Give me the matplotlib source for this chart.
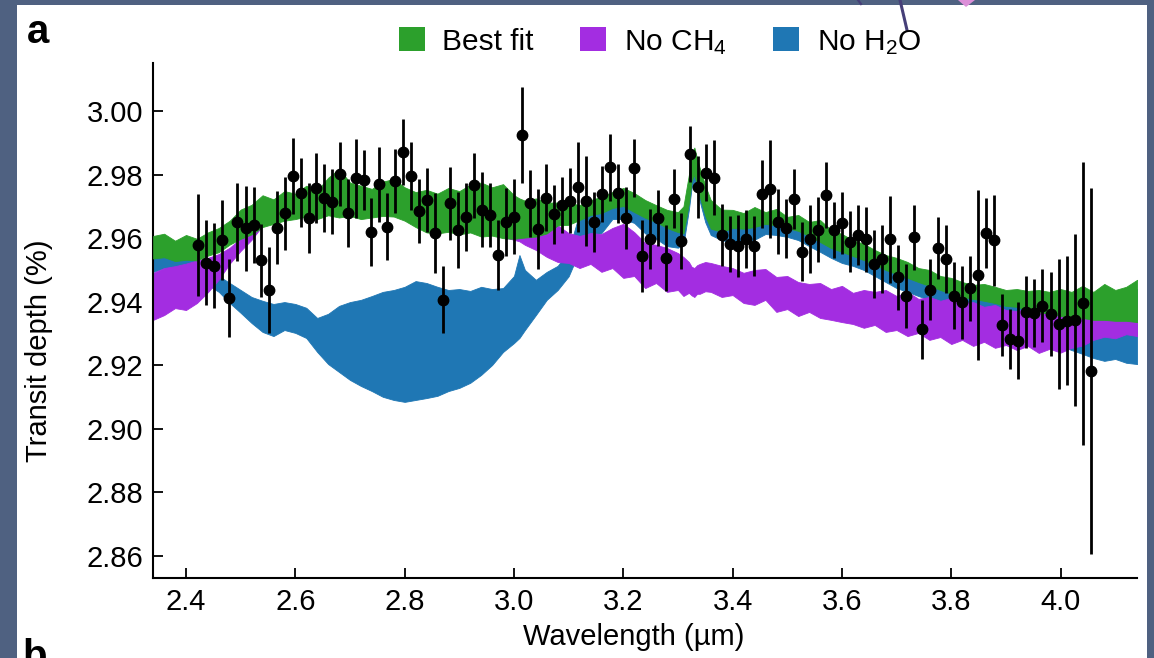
import matplotlib
matplotlib.use('Agg')
import matplotlib.pyplot as plt
from matplotlib.patches import Patch, Rectangle, Polygon
from matplotlib.lines import Line2D

plt.rcParams['font.family'] = ['Liberation Sans', 'DejaVu Sans']
plt.rcParams['mathtext.fontset'] = 'custom'
plt.rcParams['mathtext.rm'] = 'Liberation Sans'
plt.rcParams['mathtext.it'] = 'Liberation Sans:italic'
plt.rcParams['mathtext.bf'] = 'Liberation Sans:bold'

# ---------------- data ----------------
# observed spectrum
wavelength = [
    2.4225, 2.4366, 2.4512, 2.4659, 2.4792, 2.4939, 2.5092, 2.5239, 2.5378, 2.5513,
    2.5665, 2.5806, 2.5952, 2.6098, 2.6245, 2.6384, 2.6525, 2.6671, 2.6812, 2.6964,
    2.7110, 2.7251, 2.7390, 2.7536, 2.7683, 2.7824, 2.7970, 2.8116, 2.8257, 2.8404,
    2.8550, 2.8696, 2.8835, 2.8982, 2.9128, 2.9269, 2.9415, 2.9562, 2.9708, 2.9854,
    3.0001, 3.0147, 3.0293, 3.0440, 3.0586, 3.0732, 3.0873, 3.1025, 3.1172, 3.1318,
    3.1459, 3.1605, 3.1757, 3.1903, 3.2050, 3.2196, 3.2343, 3.2489, 3.2630, 3.2776,
    3.2922, 3.3061, 3.3221, 3.3361, 3.3508, 3.3654, 3.3800, 3.3947, 3.4093, 3.4245,
    3.4391, 3.4532, 3.4679, 3.4830, 3.4977, 3.5123, 3.5270, 3.5416, 3.5562, 3.5709,
    3.5855, 3.6001, 3.6142, 3.6300, 3.6441, 3.6587, 3.6739, 3.6885, 3.7031, 3.7178,
    3.7324, 3.7471, 3.7611, 3.7758, 3.7910, 3.8056, 3.8202, 3.8349, 3.8495, 3.8641,
    3.8788, 3.8934, 3.9081, 3.9227, 3.9373, 3.9520, 3.9666, 3.9820, 3.9966, 4.0112,
    4.0259, 4.0411, 4.0562]
depth = [
    2.9579, 2.9523, 2.9514, 2.9594, 2.9411, 2.9650, 2.9631, 2.9642, 2.9531, 2.9437,
    2.9633, 2.9678, 2.9796, 2.9743, 2.9664, 2.9757, 2.9725, 2.9715, 2.9802, 2.9680,
    2.9788, 2.9783, 2.9620, 2.9769, 2.9636, 2.9780, 2.9872, 2.9796, 2.9686, 2.9720,
    2.9617, 2.9406, 2.9710, 2.9626, 2.9668, 2.9767, 2.9689, 2.9673, 2.9547, 2.9652,
    2.9668, 2.9925, 2.9710, 2.9628, 2.9727, 2.9675, 2.9704, 2.9718, 2.9760, 2.9718,
    2.9652, 2.9739, 2.9823, 2.9741, 2.9664, 2.9820, 2.9544, 2.9597, 2.9664, 2.9537,
    2.9724, 2.9591, 2.9865, 2.9760, 2.9806, 2.9790, 2.9610, 2.9582, 2.9576, 2.9597,
    2.9576, 2.9738, 2.9755, 2.9652, 2.9631, 2.9722, 2.9558, 2.9597, 2.9626, 2.9736,
    2.9626, 2.9647, 2.9589, 2.9610, 2.9597, 2.9518, 2.9534, 2.9597, 2.9477, 2.9419,
    2.9603, 2.9314, 2.9437, 2.9568, 2.9535, 2.9419, 2.9398, 2.9442, 2.9484, 2.9615,
    2.9594, 2.9327, 2.9283, 2.9278, 2.9367, 2.9364, 2.9388, 2.9361, 2.9330, 2.9341,
    2.9343, 2.9395, 2.9182]
depth_err = [
    0.0160, 0.0133, 0.0134, 0.0127, 0.0122, 0.0123, 0.0133, 0.0120, 0.0115, 0.0135,
    0.0114, 0.0115, 0.0120, 0.0108, 0.0110, 0.0110, 0.0107, 0.0102, 0.0100, 0.0107,
    0.0124, 0.0094, 0.0106, 0.0118, 0.0105, 0.0100, 0.0104, 0.0107, 0.0100, 0.0100,
    0.0126, 0.0105, 0.0115, 0.0120, 0.0107, 0.0102, 0.0118, 0.0100, 0.0110, 0.0107,
    0.0118, 0.0151, 0.0105, 0.0126, 0.0105, 0.0092, 0.0089, 0.0102, 0.0142, 0.0142,
    0.0094, 0.0089, 0.0106, 0.0092, 0.0097, 0.0091, 0.0114, 0.0094, 0.0089, 0.0103,
    0.0092, 0.0089, 0.0089, 0.0098, 0.0089, 0.0118, 0.0097, 0.0089, 0.0097, 0.0092,
    0.0094, 0.0107, 0.0155, 0.0103, 0.0092, 0.0094, 0.0094, 0.0107, 0.0102, 0.0103,
    0.0089, 0.0097, 0.0095, 0.0094, 0.0102, 0.0107, 0.0107, 0.0137, 0.0102, 0.0101,
    0.0102, 0.0093, 0.0096, 0.0098, 0.0107, 0.0105, 0.0114, 0.0102, 0.0267, 0.0110,
    0.0143, 0.0098, 0.0093, 0.0121, 0.0114, 0.0107, 0.0115, 0.0133, 0.0204, 0.0204,
    0.0271, 0.0446, 0.0577]

# model bands (wavelength grid shared by the three models)
model_wl = [
    2.34, 2.36, 2.38, 2.40, 2.42, 2.44, 2.46, 2.48, 2.50, 2.52,
    2.54, 2.56, 2.58, 2.60, 2.62, 2.64, 2.66, 2.68, 2.70, 2.72,
    2.74, 2.76, 2.78, 2.80, 2.82, 2.84, 2.86, 2.88, 2.90, 2.92,
    2.94, 2.96, 2.98, 3.00, 3.01,
    3.02, 3.04, 3.06, 3.08, 3.10, 3.12, 3.14, 3.16, 3.18, 3.20,
    3.22, 3.24, 3.26, 3.28, 3.30,
    3.31, 3.32, 3.325, 3.33, 3.335, 3.34, 3.35, 3.36,
    3.38, 3.40, 3.42, 3.44, 3.46, 3.48, 3.50, 3.52, 3.54, 3.56,
    3.58, 3.60, 3.62, 3.64, 3.66, 3.68, 3.70, 3.72, 3.74, 3.76,
    3.78, 3.80, 3.82, 3.84, 3.86, 3.88, 3.90, 3.92, 3.94, 3.96,
    3.98, 4.00, 4.02, 4.04, 4.06, 4.08, 4.10, 4.12, 4.14]

best_hi = [
    2.9607, 2.9614, 2.9592, 2.9610, 2.9598, 2.9618, 2.9632, 2.9655, 2.9690, 2.9705,
    2.9735, 2.9722, 2.9748, 2.9740, 2.9765, 2.9750, 2.9790, 2.9818, 2.9775, 2.9765,
    2.9755, 2.9778, 2.9786, 2.9760, 2.9745, 2.9752, 2.9740, 2.9758, 2.9748, 2.9768,
    2.9775, 2.9760, 2.9770, 2.9735, 2.9725,
    2.9718, 2.9725, 2.9712, 2.9712, 2.9711, 2.9704, 2.9720, 2.9730, 2.9745, 2.9758,
    2.9742, 2.9720, 2.9704, 2.9689, 2.9682,
    2.9700, 2.9800, 2.9865, 2.9885, 2.9850, 2.9820, 2.9765, 2.9720,
    2.9690, 2.9689, 2.9679, 2.9698, 2.9682, 2.9692, 2.9667, 2.9673, 2.9651, 2.9657,
    2.9626, 2.9613, 2.9594, 2.9582, 2.9563, 2.9547, 2.9538, 2.9525, 2.9506, 2.9500,
    2.9481, 2.9475, 2.9462, 2.9453, 2.9456, 2.9447, 2.9437, 2.9440, 2.9434, 2.9437,
    2.9431, 2.9440, 2.9431, 2.9450, 2.9431, 2.9456, 2.9437, 2.9447, 2.9469]
best_lo = [
    2.9536, 2.9540, 2.9528, 2.9532, 2.9530, 2.9545, 2.9556, 2.9580, 2.9598, 2.9612,
    2.9635, 2.9645, 2.9655, 2.9660, 2.9668, 2.9660, 2.9672, 2.9665, 2.9670, 2.9660,
    2.9665, 2.9670, 2.9668, 2.9655, 2.9635, 2.9618, 2.9615, 2.9620, 2.9612, 2.9618,
    2.9605, 2.9608, 2.9600, 2.9598, 2.9600,
    2.9602, 2.9605, 2.9615, 2.9640, 2.9642, 2.9657, 2.9673, 2.9679, 2.9695, 2.9701,
    2.9682, 2.9664, 2.9651, 2.9632, 2.9619,
    2.9615, 2.9710, 2.9780, 2.9800, 2.9765, 2.9730, 2.9670, 2.9630,
    2.9620, 2.9632, 2.9630, 2.9635, 2.9645, 2.9640, 2.9632, 2.9623, 2.9607, 2.9588,
    2.9569, 2.9557, 2.9544, 2.9531, 2.9516, 2.9500, 2.9487, 2.9475, 2.9462, 2.9450,
    2.9437, 2.9425, 2.9415, 2.9409, 2.9403, 2.9396, 2.9387, 2.9384, 2.9374, 2.9368,
    2.9362, 2.9355, 2.9349, 2.9349, 2.9343, 2.9343, 2.9340, 2.9340, 2.9336]

noh2o_hi = [
    2.9575, 2.9570, 2.9565, 2.9555, 2.9530, 2.9500, 2.9481, 2.9459, 2.9437, 2.9415,
    2.9403, 2.9393, 2.9399, 2.9393, 2.9381, 2.9349, 2.9362, 2.9387, 2.9399, 2.9406,
    2.9418, 2.9431, 2.9437, 2.9447, 2.9465, 2.9459, 2.9447, 2.9437, 2.9440, 2.9434,
    2.9447, 2.9440, 2.9443, 2.9481, 2.9547,
    2.9500, 2.9469, 2.9494, 2.9513, 2.9560, 2.9680, 2.9700, 2.9715, 2.9735, 2.9745,
    2.9730, 2.9710, 2.9695, 2.9680, 2.9670,
    2.9680, 2.9780, 2.9845, 2.9860, 2.9835, 2.9800, 2.9745, 2.9700,
    2.9670, 2.9670, 2.9660, 2.9675, 2.9665, 2.9670, 2.9650, 2.9655, 2.9635, 2.9640,
    2.9610, 2.9595, 2.9580, 2.9565, 2.9545, 2.9530, 2.9520, 2.9505, 2.9490, 2.9480,
    2.9465, 2.9455, 2.9445, 2.9435, 2.9435, 2.9425, 2.9420, 2.9420, 2.9415, 2.9415,
    2.9410, 2.9420, 2.9410, 2.9425, 2.9410, 2.9430, 2.9415, 2.9425, 2.9440]
noh2o_lo = [
    2.9494, 2.9506, 2.9509, 2.9506, 2.9484, 2.9453, 2.9431, 2.9396, 2.9365, 2.9333,
    2.9305, 2.9292, 2.9311, 2.9302, 2.9286, 2.9242, 2.9204, 2.9179, 2.9154, 2.9135,
    2.9119, 2.9101, 2.9091, 2.9085, 2.9091, 2.9097, 2.9104, 2.9119, 2.9129, 2.9145,
    2.9170, 2.9201, 2.9242, 2.9270, 2.9286,
    2.9311, 2.9358, 2.9406, 2.9437, 2.9480, 2.9560, 2.9608, 2.9616, 2.9660, 2.9660,
    2.9648, 2.9615, 2.9598, 2.9575, 2.9570,
    2.9580, 2.9690, 2.9760, 2.9780, 2.9750, 2.9715, 2.9650, 2.9610,
    2.9594, 2.9585, 2.9590, 2.9595, 2.9613, 2.9610, 2.9604, 2.9594, 2.9575, 2.9557,
    2.9538, 2.9522, 2.9513, 2.9500, 2.9481, 2.9462, 2.9443, 2.9431, 2.9418, 2.9406,
    2.9396, 2.9387, 2.9381, 2.9381, 2.9368, 2.9362, 2.9352, 2.9336, 2.9311, 2.9292,
    2.9277, 2.9261, 2.9248, 2.9236, 2.9223, 2.9214, 2.9220, 2.9208, 2.9204]

noch4_hi = [
    2.9491, 2.9506, 2.9512, 2.9520, 2.9530, 2.9538, 2.9550, 2.9570, 2.9600, 2.9640,
    2.9720, 2.9710, 2.9735, 2.9730, 2.9750, 2.9740, 2.9775, 2.9800, 2.9760, 2.9750,
    2.9745, 2.9765, 2.9770, 2.9750, 2.9735, 2.9740, 2.9730, 2.9745, 2.9735, 2.9755,
    2.9760, 2.9750, 2.9755, 2.9720, 2.9710,
    2.9700, 2.9690, 2.9660, 2.9640, 2.9616, 2.9607, 2.9616, 2.9613, 2.9632, 2.9645,
    2.9619, 2.9585, 2.9579, 2.9569, 2.9553,
    2.9541, 2.9525, 2.9510, 2.9506, 2.9515, 2.9519, 2.9525, 2.9522,
    2.9513, 2.9506, 2.9491, 2.9500, 2.9503, 2.9478, 2.9481, 2.9462, 2.9456, 2.9459,
    2.9440, 2.9450, 2.9428, 2.9437, 2.9431, 2.9437, 2.9418, 2.9431, 2.9409, 2.9415,
    2.9403, 2.9412, 2.9396, 2.9399, 2.9384, 2.9390, 2.9374, 2.9371, 2.9378, 2.9368,
    2.9374, 2.9365, 2.9378, 2.9362, 2.9374, 2.9368, 2.9387, 2.9374, 2.9393]
noch4_lo = [
    2.9343, 2.9358, 2.9380, 2.9374, 2.9396, 2.9430, 2.9470, 2.9520, 2.9560, 2.9595,
    2.9640, 2.9650, 2.9660, 2.9665, 2.9672, 2.9665, 2.9676, 2.9670, 2.9674, 2.9665,
    2.9670, 2.9674, 2.9672, 2.9660, 2.9640, 2.9622, 2.9620, 2.9625, 2.9616, 2.9622,
    2.9610, 2.9612, 2.9603, 2.9595, 2.9590,
    2.9579, 2.9563, 2.9541, 2.9525, 2.9522, 2.9506, 2.9519, 2.9494, 2.9506, 2.9475,
    2.9481, 2.9443, 2.9459, 2.9431, 2.9437,
    2.9418, 2.9428, 2.9420, 2.9415, 2.9425, 2.9425, 2.9433, 2.9431,
    2.9415, 2.9421, 2.9396, 2.9390, 2.9406, 2.9368, 2.9377, 2.9355, 2.9368, 2.9349,
    2.9343, 2.9336, 2.9330, 2.9318, 2.9327, 2.9305, 2.9311, 2.9292, 2.9302, 2.9280,
    2.9289, 2.9267, 2.9280, 2.9261, 2.9274, 2.9255, 2.9264, 2.9248, 2.9261, 2.9239,
    2.9252, 2.9240, 2.9255, 2.9262, 2.9280, 2.9290, 2.9285, 2.9298, 2.9292]

x_ticks = [2.4, 2.6, 2.8, 3.0, 3.2, 3.4, 3.6, 3.8, 4.0]
x_tick_labels = ['2.4', '2.6', '2.8', '3.0', '3.2', '3.4', '3.6', '3.8', '4.0']
y_ticks = [2.86, 2.88, 2.90, 2.92, 2.94, 2.96, 2.98, 3.00]
y_tick_labels = ['2.86', '2.88', '2.90', '2.92', '2.94', '2.96', '2.98', '3.00']
legend_labels = ['Best fit', 'No CH$_4$', 'No H$_2$O']

# ---------------- style ----------------
C_GREEN = '#2ca02c'
C_PURPLE = '#a32de1'
C_BLUE = '#1f77b4'
BG = '#4f6181'
W, H = 1154, 658

fig = plt.figure(figsize=(W / 100, H / 100), dpi=100)
fig.patch.set_facecolor(BG)
fig.patches.append(Rectangle((17 / W, 0), (1147 - 17) / W, 1 - 5 / H,
                             transform=fig.transFigure, facecolor='white',
                             edgecolor='none', zorder=-10))
# fragments of the neighbouring figure at the top edge
fig.lines.append(Line2D([900 / W, 907 / W], [1.0, 1 - 30 / H], transform=fig.transFigure,
                        color='#463f78', lw=2.2, zorder=1))
fig.lines.append(Line2D([858 / W, 861 / W], [1.0, 1 - 4 / H], transform=fig.transFigure,
                        color='#463f78', lw=1.6, zorder=1))
fig.patches.append(Polygon([(958 / W, 1.0), (975 / W, 1.0), (966 / W, 1 - 7 / H)],
                           closed=True, transform=fig.transFigure,
                           facecolor='#dc8fd8', edgecolor='none', zorder=1))

ax = fig.add_axes([153 / W, 1 - 578 / H, (1137 - 153) / W, (578 - 63) / H])
ax.set_zorder(2)
ax.set_facecolor('white')

ax.fill_between(model_wl, noh2o_lo, noh2o_hi, color=C_BLUE, lw=0.6, zorder=1)
ax.fill_between(model_wl, noch4_lo, noch4_hi, color=C_PURPLE, lw=0.6, zorder=2)
ax.fill_between(model_wl, best_lo, best_hi, color=C_GREEN, lw=0.6, zorder=3)

ax.errorbar(wavelength, depth, yerr=depth_err, fmt='o', color='black', ms=7.5,
            elinewidth=2.0, capsize=0, zorder=5)

ax.set_xlim(2.3396, 4.1398)
ax.set_ylim(2.8531, 3.0151)
ax.set_xticks(x_ticks)
ax.set_xticklabels(x_tick_labels)
ax.set_yticks(y_ticks)
ax.set_yticklabels(y_tick_labels)
ax.tick_params(direction='in', length=7.5, width=1.3, labelsize=21, pad=7,
               colors='black')
for s in ('top', 'right'):
    ax.spines[s].set_visible(False)
for s in ('left', 'bottom'):
    ax.spines[s].set_linewidth(1.5)

ax.set_xlabel('Wavelength (\u00b5m)', fontsize=21)
ax.xaxis.set_label_coords(0.489, -0.087)
ax.set_ylabel('Transit depth (%)', fontsize=21)
ax.yaxis.set_label_coords(-0.102, 0.441)

handles = [Patch(facecolor=C_GREEN, label=legend_labels[0]),
           Patch(facecolor=C_PURPLE, label=legend_labels[1]),
           Patch(facecolor=C_BLUE, label=legend_labels[2])]
fig.legend(handles=handles, loc='center', bbox_to_anchor=(660 / W, 1 - 42 / H),
           ncol=3, frameon=False, fontsize=21.5, handlelength=0.86,
           handleheight=0.86, handletextpad=0.6, columnspacing=1.55,
           borderaxespad=0, borderpad=0)

fig.text(27 / W, 1 - 43 / H, 'a', fontsize=29, fontweight='heavy',
         ha='left', va='baseline')
fig.text(22 / W, 1 - 638 / H, 'b', fontsize=29, fontweight='heavy',
         ha='left', va='top')

fig.savefig('out.png', dpi=100, facecolor=fig.get_facecolor())
